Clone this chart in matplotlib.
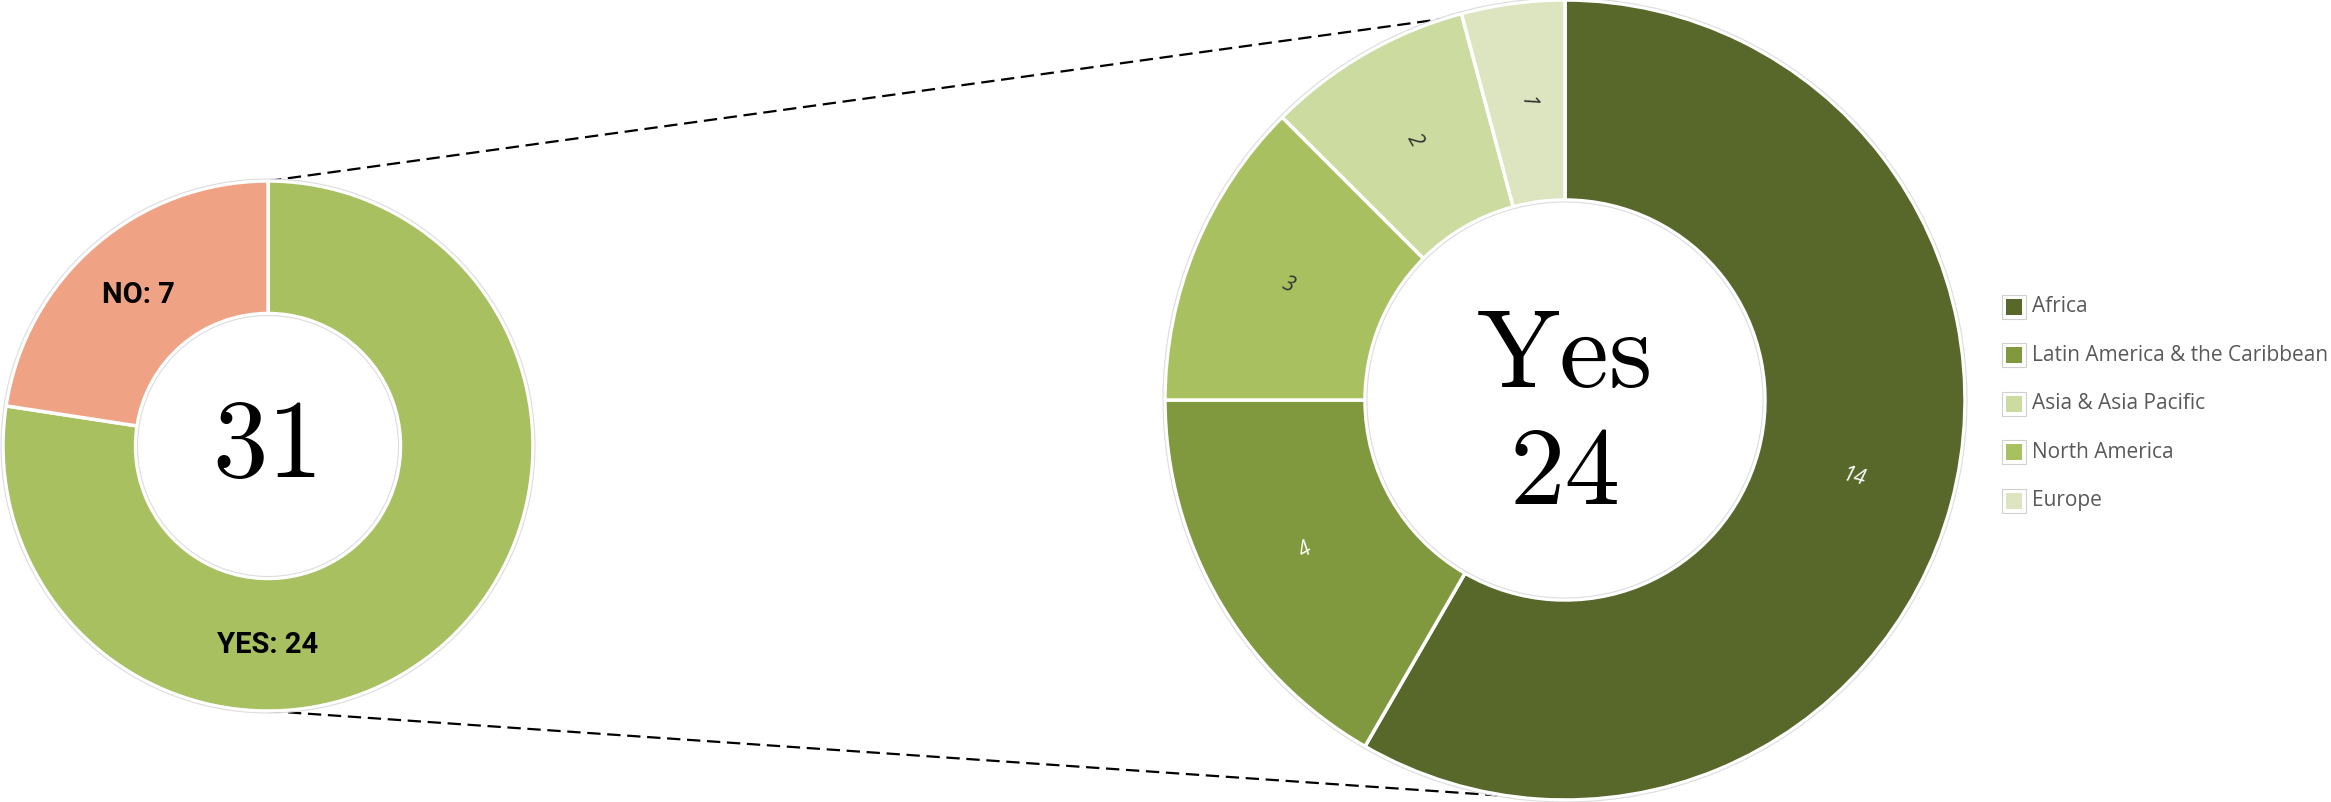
import matplotlib.pyplot as plt
import numpy as np
from matplotlib.patches import Circle

# data
answers = ['YES', 'NO']
answer_counts = [24, 7]
answer_colors = ['#A8C060', '#F0A285']

regions = ['Africa', 'Latin America & the Caribbean', 'North America', 'Asia & Asia Pacific', 'Europe']
region_counts = [14, 4, 3, 2, 1]
region_colors = ['#58672A', '#80983E', '#A8C060', '#CCDBA0', '#DCE5C0']
region_text_colors = ['white', 'white', '#333333', '#333333', '#333333']
legend_order = ['Africa', 'Latin America & the Caribbean', 'Asia & Asia Pacific', 'North America', 'Europe']

W, H = 2331, 802
fig = plt.figure(figsize=(W / 100, H / 100), dpi=100)
ax = fig.add_axes([0, 0, 1, 1])

# left donut
lc, lR = (268, 356), 265
ax.pie(answer_counts, colors=answer_colors, startangle=90, counterclock=False,
       center=lc, radius=lR,
       wedgeprops=dict(width=lR * 0.5, edgecolor='white', linewidth=2.5))
ax.add_patch(Circle(lc, lR + 2, fill=False, edgecolor='#dddddd', lw=0.8))
ax.add_patch(Circle(lc, lR * 0.5 - 2, fill=False, edgecolor='#dddddd', lw=0.8))

# labels on the left donut
no_mid = 90 - 360 * (answer_counts[0] + answer_counts[1] / 2) / sum(answer_counts)
for txt, ang in [('%s: %d' % (answers[1], answer_counts[1]), no_mid),
                 ('%s: %d' % (answers[0], answer_counts[0]), -90)]:
    a = np.radians(ang)
    ax.text(lc[0] + 0.75 * lR * np.cos(a), lc[1] + 0.75 * lR * np.sin(a), txt,
            ha='center', va='center', fontsize=21, fontweight='bold',
            family='Roboto', color='black')
ax.text(lc[0], lc[1] - 3, str(sum(answer_counts)), ha='center', va='center',
        fontsize=80, family='cmr10')

# right donut
rc, rR = (1565, 402), 400
wedges, _ = ax.pie(region_counts, colors=region_colors, startangle=90, counterclock=False,
                   center=rc, radius=rR,
                   wedgeprops=dict(width=rR * 0.5, edgecolor='white', linewidth=2.5))
ax.add_patch(Circle(rc, rR + 2, fill=False, edgecolor='#dddddd', lw=0.8))
ax.add_patch(Circle(rc, rR * 0.5 - 2, fill=False, edgecolor='#dddddd', lw=0.8))

for w, n, tc in zip(wedges, region_counts, region_text_colors):
    mid = (w.theta1 + w.theta2) / 2
    a = np.radians(mid)
    rot = (mid - 180) % 360
    if rot > 180:
        rot -= 360
    if rot > 90:
        rot -= 180
    if rot < -90:
        rot += 180
    ax.text(rc[0] + 0.75 * rR * np.cos(a), rc[1] + 0.75 * rR * np.sin(a), str(n),
            ha='center', va='center', fontsize=15, style='italic', rotation=rot,
            color=tc, family='Open Sans')

ax.text(rc[0], rc[1] + 41, 'Yes', ha='center', va='center', fontsize=80, family='cmr10')
ax.text(rc[0], rc[1] - 76, str(sum(region_counts)), ha='center', va='center',
        fontsize=80, family='cmr10')

# dashed connectors
ax.plot([lc[0], rc[0]], [lc[1] + lR, rc[1] + rR - 2], ls=(0, (6, 3)), color='black', lw=1.6, zorder=0)
ax.plot([lc[0], rc[0]], [lc[1] - lR, rc[1] - rR], ls=(0, (6, 3)), color='black', lw=1.6, zorder=0)

# legend
for i, name in enumerate(legend_order):
    y = H - (307 + i * 48.4)
    col = region_colors[regions.index(name)]
    ax.plot(2014, y, marker='s', markersize=17, markerfacecolor='white',
            markeredgecolor='#d0d0d0', markeredgewidth=0.8)
    ax.plot(2014, y, marker='s', markersize=11, markerfacecolor=col, markeredgewidth=0)
    ax.text(2032, y, name, ha='left', va='center', fontsize=15,
            family='Open Sans', color='#595959')

ax.set_xlim(0, W)
ax.set_ylim(0, H)
ax.set_aspect('equal')
ax.axis('off')

plt.savefig('out.png', dpi=100)
